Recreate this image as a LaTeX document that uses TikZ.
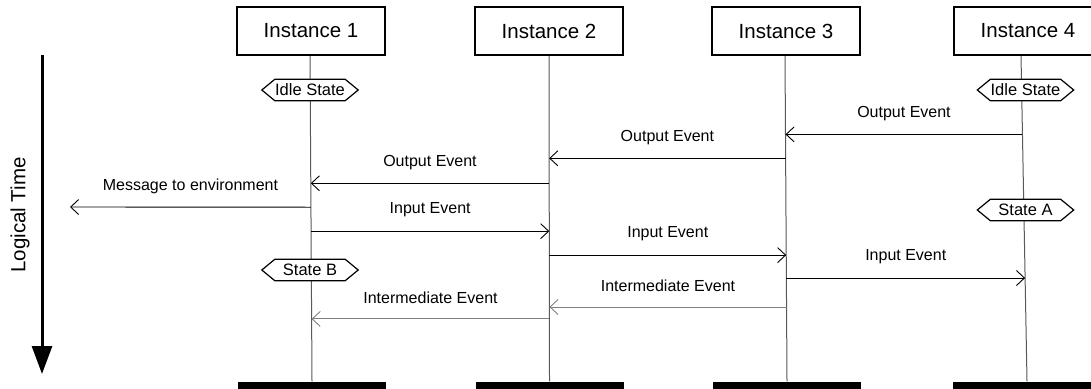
\documentclass[tikz,border=0pt]{standalone}
\usepackage{fontspec}
\setmainfont{Liberation Sans}
\usetikzlibrary{arrows.meta,calc}

\pgfdeclarelayer{lines}
\pgfdeclarelayer{shapes}
\pgfsetlayers{lines,shapes,main}

\tikzset{
  inst/.style={draw=black, line width=1.1pt, fill=white, minimum width=148pt,
    minimum height=48pt, inner sep=0pt, font=\fontsize{20.5}{24}\selectfont},
  endbar/.style={fill=black, minimum width=148pt, minimum height=9pt, inner sep=0pt},
  life/.style={draw=black!65, line width=1pt},
  msg/.style={draw=black, line width=0.9pt, -{Straight Barb[length=8pt,width=15pt]}},
  midmsg/.style={msg, draw=black!50},
  lbl/.style={midway, yshift=21pt, font=\fontsize{16}{19}\selectfont},
  statebox/.style={minimum width=96pt, minimum height=21pt, inner sep=0pt,
    font=\fontsize{16.5}{19}\selectfont},
  hexline/.style={draw=black, line width=1.2pt, fill=white},
  timeaxis/.style={line width=3pt, -{Triangle[length=28pt,width=20pt]}},
}

% point on lifeline #2 at height #3
\newcommand\lifept[3]{\coordinate (#1) at ($(t#2)!{(#3-55)/326.5}!(b#2)$);}

\begin{document}
\begin{tikzpicture}[x=1pt,y=-1pt]
\useasboundingbox (0,0) rectangle (1091,388);

% instance heads
\node[inst] (i1) at (311,31) {Instance 1};
\node[inst] (i2) at (549,31) {Instance 2};
\node[inst] (i3) at (786,31) {Instance 3};
\node[inst] (i4) at (1028,31) {Instance 4};

% end bars
\node[endbar] (z1) at (312,386) {};
\node[endbar] (z2) at (549.5,386) {};
\node[endbar] (z3) at (787,386) {};
\node[endbar] (z4) at (1027,386) {};

% lifeline end points
\coordinate (t1) at ([xshift=-1pt]i1.south);
\coordinate (t2) at (i2.south);
\coordinate (t3) at ([xshift=-1pt]i3.south);
\coordinate (t4) at ([xshift=-7pt]i4.south);
\coordinate (b1) at (z1.north);
\coordinate (b2) at (z2.north);
\coordinate (b3) at (z3.north);
\coordinate (b4) at (z4.north);

\begin{pgfonlayer}{lines}
  \foreach \k in {1,2,3,4} \draw[life] (t\k) -- (b\k);
\end{pgfonlayer}

% states
\node[statebox] (s1) at (310,90) {Idle State};
\node[statebox] (s4) at (1025.5,90) {Idle State};
\node[statebox] (sA) at (1025.5,210) {State A};
\node[statebox] (sB) at (310,270) {State B};
\begin{pgfonlayer}{shapes}
  \foreach \s in {s1,s4,sA,sB}
    \draw[hexline] (\s.west) -- ([xshift=13pt]\s.north west)
      -- ([xshift=-13pt]\s.north east) -- (\s.east)
      -- ([xshift=-13pt]\s.south east) -- ([xshift=13pt]\s.south west) -- cycle;
\end{pgfonlayer}

% message end points on the lifelines
\lifept{a4}{4}{134} \lifept{a3}{3}{134}
\lifept{b3m}{3}{158} \lifept{b2m}{2}{158}
\lifept{c2}{2}{183} \lifept{c1}{1}{183}
\lifept{d1}{1}{207}
\coordinate (env) at (70,207);
\lifept{e1}{1}{231} \lifept{e2}{2}{231}
\lifept{f2}{2}{255} \lifept{f3}{3}{255}
\lifept{g3}{3}{278} \lifept{g4}{4}{278}
\lifept{h3}{3}{307} \lifept{h2}{2}{307}
\lifept{k2}{2}{319} \lifept{k1}{1}{319}

% messages
\draw[msg] (a4) -- (a3) node[lbl] {Output Event};
\draw[msg] (b3m) -- (b2m) node[lbl] {Output Event};
\draw[msg] (c2) -- (c1) node[lbl] {Output Event};
\draw[msg] (d1) -- (env) node[lbl] {Message to environment};
\draw[msg] (e1) -- (e2) node[lbl] {Input Event};
\draw[msg] (f2) -- (f3) node[lbl] {Input Event};
\draw[msg] (g3) -- (g4) node[lbl] {Input Event};
\draw[midmsg] (h3) -- (h2) node[lbl] {Intermediate Event};
\draw[midmsg] (k2) -- (k1) node[lbl] {Intermediate Event};

% logical time axis
\coordinate (lt0) at (42,55);
\coordinate (lt1) at (42,374);
\draw[timeaxis] (lt0) -- (lt1);
\node[rotate=90, font=\fontsize{20.5}{24}\selectfont] (ltl) at (20,215) {Logical Time};
\end{tikzpicture}
\end{document}
